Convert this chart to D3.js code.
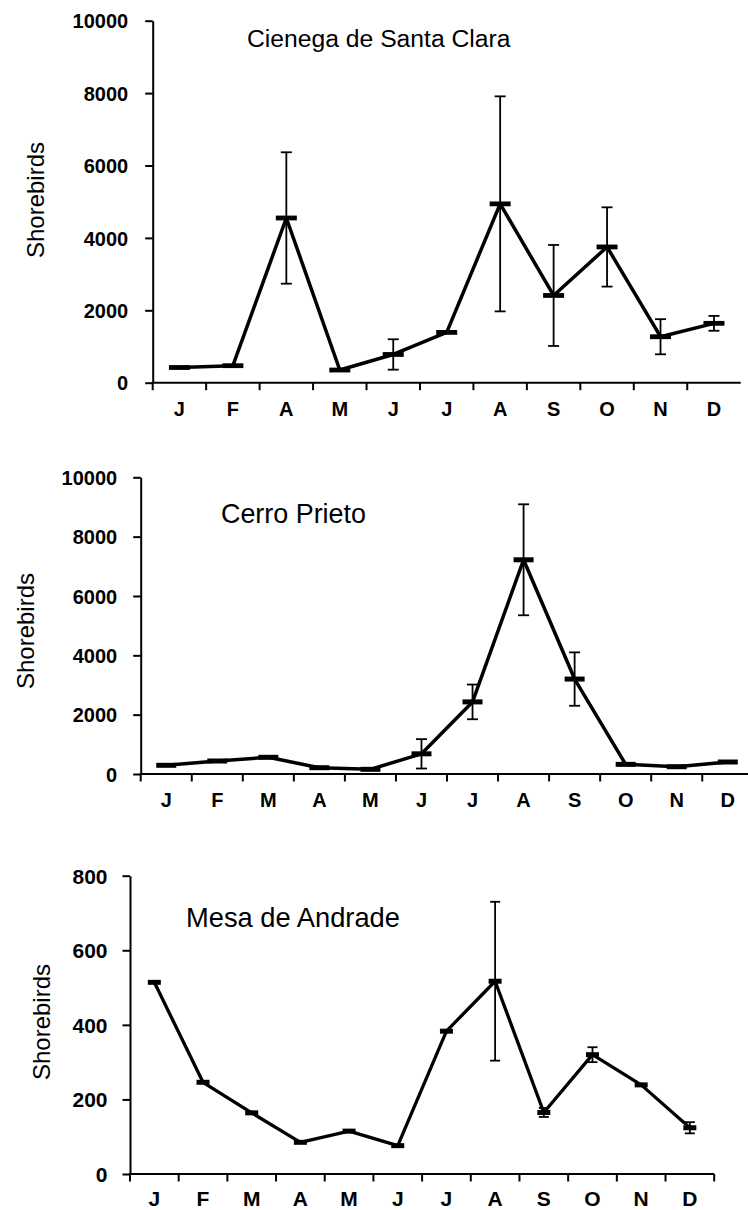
<!DOCTYPE html>
<html>
<head>
<meta charset="utf-8">
<script src="https://cdn.jsdelivr.net/npm/d3@7"></script>
<style>
  html, body { margin: 0; padding: 0; background: #fff; }
  svg { display: block; }
  text { font-family: "Liberation Sans", Arial, sans-serif; fill: #000; }
</style>
</head>
<body>
<script>
// Monthly shorebird counts (mean and error half-width) at three sites.

// Cienega de Santa Clara (no March survey)
const cienegaMonths = ["J", "F", "A", "M", "J", "J", "A", "S", "O", "N", "D"];
const cienegaMean   = [420, 470, 4550, 350, 780, 1390, 4940, 2410, 3750, 1270, 1640];
const cienegaError  = [0, 0, 1815, 0, 420, 0, 2970, 1395, 1095, 485, 205];
const cienegaTicks  = [0, 2000, 4000, 6000, 8000, 10000];

// Cerro Prieto
const cerroMonths = ["J", "F", "M", "A", "M", "J", "J", "A", "S", "O", "N", "D"];
const cerroMean   = [293, 438, 563, 212, 158, 680, 2430, 7220, 3200, 325, 246, 404];
const cerroError  = [0, 0, 0, 0, 0, 495, 585, 1870, 900, 0, 0, 0];
const cerroTicks  = [0, 2000, 4000, 6000, 8000, 10000];

// Mesa de Andrade
const mesaMonths = ["J", "F", "M", "A", "M", "J", "J", "A", "S", "O", "N", "D"];
const mesaMean   = [514, 246, 164, 85, 115, 76, 383, 517, 165, 320, 239, 124];
const mesaError  = [0, 0, 0, 0, 0, 0, 0, 213, 12, 20, 0, 15];
const mesaTicks  = [0, 200, 400, 600, 800];

const yTitle = "Shorebirds";

const svg = d3.select("body").append("svg")
  .attr("width", 748)
  .attr("height", 1210);

function drawPanel(p) {
  const n = p.labels.length;
  const x = d3.scaleBand().domain(d3.range(n)).range(p.xRange).padding(0);
  const y = d3.scaleLinear().domain([0, d3.max(p.yTicks)]).range(p.yRange);
  const cx = i => x(i) + x.bandwidth() / 2;
  const g = svg.append("g");

  // y axis
  const yAxis = d3.axisLeft(y)
    .tickValues(p.yTicks)
    .tickSize(p.tickLen)
    .tickSizeOuter(0)
    .tickPadding(p.yPad)
    .tickFormat(d3.format("d"));
  const ya = g.append("g")
    .attr("transform", `translate(${p.xRange[0]},0)`)
    .call(yAxis);
  ya.select(".domain").attr("stroke", "#000").attr("stroke-width", 2);
  ya.selectAll(".tick line").attr("stroke", "#000").attr("stroke-width", 2);
  ya.selectAll(".tick text")
    .attr("font-size", p.tickFont)
    .attr("font-weight", "bold")
    .attr("font-family", "'Liberation Sans', Arial, sans-serif")
    .attr("fill", "#000")
    .attr("dy", "0.36em");

  // x axis line with tick marks on month boundaries
  const y0 = y(0);
  g.append("line")
    .attr("x1", p.xRange[0] - 1).attr("x2", p.xRange[1])
    .attr("y1", y0).attr("y2", y0)
    .attr("stroke", "#000").attr("stroke-width", 2);
  const bounds = d3.range(p.lastTick ? n + 1 : n).map(i => p.xRange[0] + i * x.step());
  g.selectAll(".xtick").data(bounds).join("line")
    .attr("class", "xtick")
    .attr("x1", d => d).attr("x2", d => d)
    .attr("y1", y0).attr("y2", y0 + p.tickLen)
    .attr("stroke", "#000").attr("stroke-width", 2);

  // month labels
  g.selectAll(".month").data(p.labels).join("text")
    .attr("class", "month")
    .attr("x", (d, i) => cx(i))
    .attr("y", y0 + p.labelOffset)
    .attr("text-anchor", "middle")
    .attr("font-size", p.tickFont)
    .attr("font-weight", "bold")
    .text(d => d);

  // error bars
  const err = p.mean.map((m, i) => ({ i, m, e: p.error[i] })).filter(d => d.e > 0);
  const eb = g.selectAll(".err").data(err).join("g").attr("class", "err");
  eb.append("line")
    .attr("x1", d => cx(d.i)).attr("x2", d => cx(d.i))
    .attr("y1", d => y(d.m + d.e)).attr("y2", d => y(d.m - d.e))
    .attr("stroke", "#000").attr("stroke-width", 1.8);
  [1, -1].forEach(s => {
    eb.append("line")
      .attr("x1", d => cx(d.i) - p.capW / 2).attr("x2", d => cx(d.i) + p.capW / 2)
      .attr("y1", d => y(d.m + s * d.e)).attr("y2", d => y(d.m + s * d.e))
      .attr("stroke", "#000").attr("stroke-width", 1.8);
  });

  // mean line
  const line = d3.line().x((d, i) => cx(i)).y(d => y(d));
  g.append("path")
    .datum(p.mean)
    .attr("d", line)
    .attr("fill", "none")
    .attr("stroke", "#000")
    .attr("stroke-width", p.lineW)
    .attr("stroke-linejoin", "round");

  // dash markers
  g.selectAll(".mark").data(p.mean).join("line")
    .attr("class", "mark")
    .attr("x1", (d, i) => cx(i) - p.markW / 2)
    .attr("x2", (d, i) => cx(i) + p.markW / 2)
    .attr("y1", d => y(d)).attr("y2", d => y(d))
    .attr("stroke", "#000")
    .attr("stroke-width", p.markH);

  // site name
  g.append("text")
    .attr("x", p.titleX).attr("y", p.titleY)
    .attr("font-size", p.titleFont)
    .text(p.title);

  // y axis title
  g.append("text")
    .attr("transform", `translate(${p.yTitleX},${p.yTitleY}) rotate(-90)`)
    .attr("text-anchor", "middle")
    .attr("font-size", p.yTitleFont)
    .text(yTitle);
}

drawPanel({
  title: "Cienega de Santa Clara",
  labels: cienegaMonths, mean: cienegaMean, error: cienegaError, yTicks: cienegaTicks,
  xRange: [152.7, 740.7], yRange: [382.7, 20.7],
  tickLen: 7.5, yPad: 17, tickFont: 20, labelOffset: 33.5, lastTick: false,
  lineW: 3.5, markW: 21, markH: 4.8, capW: 11,
  titleX: 247, titleY: 46.5, titleFont: 24.7,
  yTitleX: 43.5, yTitleY: 200, yTitleFont: 24
});

drawPanel({
  title: "Cerro Prieto",
  labels: cerroMonths, mean: cerroMean, error: cerroError, yTicks: cerroTicks,
  xRange: [140.7, 753.3], yRange: [774, 477.3],
  tickLen: 7.5, yPad: 16, tickFont: 20, labelOffset: 32.7, lastTick: true,
  lineW: 3.5, markW: 20, markH: 5, capW: 11,
  titleX: 221, titleY: 523, titleFont: 26.9,
  yTitleX: 33.5, yTitleY: 631, yTitleFont: 24
});

drawPanel({
  title: "Mesa de Andrade",
  labels: mesaMonths, mean: mesaMean, error: mesaError, yTicks: mesaTicks,
  xRange: [130, 714.2], yRange: [1174, 875.7],
  tickLen: 7.5, yPad: 15, tickFont: 21, labelOffset: 32, lastTick: true,
  lineW: 3.3, markW: 13, markH: 5, capW: 10,
  titleX: 186, titleY: 926.5, titleFont: 27.3,
  yTitleX: 50, yTitleY: 1022, yTitleFont: 24
});
</script>
</body>
</html>
